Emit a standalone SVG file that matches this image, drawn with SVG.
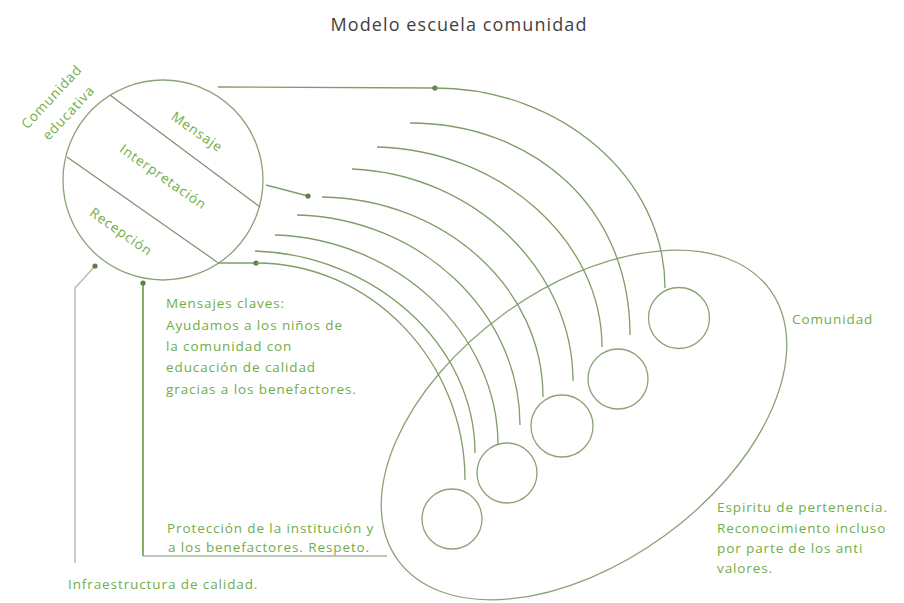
<svg xmlns="http://www.w3.org/2000/svg" width="904" height="603" viewBox="0 0 904 603">
<style>
text{font-family:"Open Sans","Noto Sans","DejaVu Sans",sans-serif;}
.t{fill:#70AD47;font-size:13.5px;letter-spacing:0.9px;}
.title{fill:#3f3f3f;font-size:18px;letter-spacing:1.1px;}
.shape{fill:none;stroke:#8aa377;stroke-width:1.3;}
.div{fill:none;stroke:#7d8f6e;stroke-width:1.2;}
.arc{fill:none;stroke:#7f9d66;stroke-width:1.3;}
</style>
<defs>
<marker id="dot" viewBox="0 0 6 6" refX="3" refY="3" markerWidth="6" markerHeight="6" markerUnits="userSpaceOnUse"><circle cx="3" cy="3" r="2.6" fill="#5e7f45"/></marker>
</defs>
<rect width="904" height="603" fill="#ffffff"/>
<g id="title"><text class="title" x="459" y="31" text-anchor="middle">Modelo escuela comunidad</text></g>

<g id="escuela">
<circle class="shape" cx="163" cy="180" r="100"/>
<line class="div" x1="110" y1="95" x2="260" y2="207"/>
<line class="div" x1="67" y1="157" x2="217" y2="262"/>
<text class="t" transform="translate(197,132) rotate(35)" y="4.5" text-anchor="middle">Mensaje</text>
<text class="t" transform="translate(163,177) rotate(35)" y="4.5" text-anchor="middle">Interpretación</text>
<text class="t" transform="translate(121,232) rotate(35)" y="4.5" text-anchor="middle">Recepción</text>
</g>
<g id="label-comunidad-educativa">
<text class="t" transform="translate(55,100) rotate(-47)" text-anchor="middle">Comunidad</text>
<text class="t" transform="translate(72,116) rotate(-47)" text-anchor="middle">educativa</text>
</g>

<g id="comunidad">
<ellipse class="shape" cx="584" cy="425" rx="230" ry="137" transform="rotate(-36 584 425)"/>
<text class="t" x="792" y="324">Comunidad</text>
</g>
<g id="miembro1"><circle class="shape" cx="452" cy="519" r="30"/></g>
<g id="miembro2"><circle class="shape" cx="507" cy="473" r="30"/></g>
<g id="miembro3"><circle class="shape" cx="562" cy="426" r="31"/></g>
<g id="miembro4"><circle class="shape" cx="618" cy="379" r="30"/></g>
<g id="miembro5"><circle class="shape" cx="679" cy="318" r="30.5"/></g>

<g id="connectors">
<path class="arc" d="M218,87 L435,88" marker-end="url(#dot)"/>
<path class="arc" d="M435,88 C561,88 665,178 665,288"/>
<path class="arc" d="M410,123 C531,123 630,205 630,335"/>
<path class="arc" d="M377,147 C500,150 602,240 602,347"/>
<path class="arc" d="M352,169 C474,174 573,270 573,381"/>
<path class="arc" d="M266,185 L308,196" marker-end="url(#dot)"/>
<path class="arc" d="M322,197 C444,199 543,287 543,397"/>
<path class="arc" d="M297,215 C420,218 520,312 520,425"/>
<path class="arc" d="M275,235 C398,239 498,334 498,445"/>
<path class="arc" d="M255,251 C375,255 475,345 475,453"/>
<path class="arc" d="M217,263 L256,263" marker-end="url(#dot)"/>
<path class="arc" d="M256,263 C371,263 465,361 465,480"/>
<path fill="none" stroke="#a9b59d" stroke-width="1.4" d="M387,556 L143,556"/>
<path fill="none" stroke="#78a858" stroke-width="1.8" d="M143,556 L143,283" marker-end="url(#dot)"/>
<path fill="none" stroke="#b2bca8" stroke-width="1.4" d="M75,563 L75,288 L95,266" marker-end="url(#dot)"/>
</g>

<g id="texto-mensajes">
<text class="t" x="166" y="308">Mensajes claves:</text>
<text class="t" x="166" y="329.5">Ayudamos a los niños de</text>
<text class="t" x="166" y="351">la comunidad con</text>
<text class="t" x="166" y="372">educación de calidad</text>
<text class="t" x="166" y="393.5">gracias a los benefactores.</text>
</g>
<g id="texto-proteccion">
<text class="t" x="167" y="533">Protección de la institución y</text>
<text class="t" x="168" y="552">a los benefactores. Respeto.</text>
</g>
<g id="texto-infraestructura">
<text class="t" x="68" y="589">Infraestructura de calidad.</text>
</g>
<g id="texto-espiritu">
<text class="t" x="717" y="512">Espiritu de pertenencia.</text>
<text class="t" x="717" y="533">Reconocimiento incluso</text>
<text class="t" x="717" y="553">por parte de los anti</text>
<text class="t" x="717" y="573">valores.</text>
</g>
</svg>
